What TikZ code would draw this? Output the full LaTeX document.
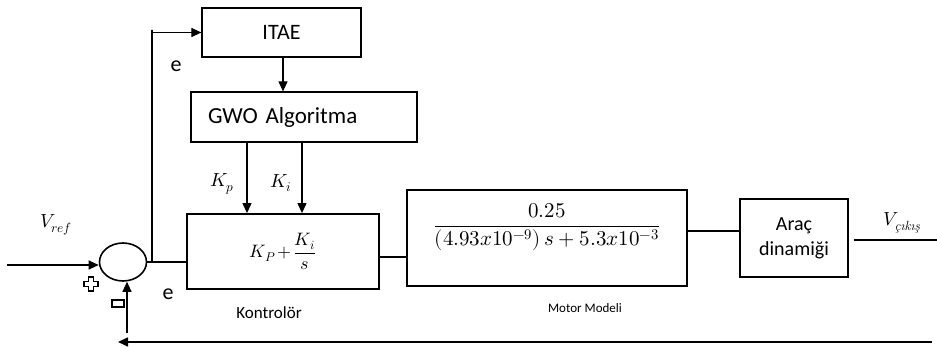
\documentclass[tikz,border=0pt]{standalone}
\usepackage{fontspec}
\usepackage{amsmath}
\usepackage{unicode-math}
\setmathfont{Latin Modern Math}
\newfontfamily\calfont{Carlito}
\usetikzlibrary{arrows.meta,shapes.geometric,calc}
\begin{document}
\begin{tikzpicture}[x=1pt,y=-1pt,
  box/.style={draw,line width=1.8pt,inner sep=0pt},
  tbox/.style={draw,line width=1.2pt,inner sep=0pt},
  conn/.style={line width=1.1pt},
  arr/.style={conn,-{Triangle[length=10pt,width=9pt]}},
  lbl/.style={inner sep=0pt,font=\calfont\fontsize{22}{26}\selectfont},
  mlbl/.style={inner sep=0pt,font=\fontsize{19}{22}\selectfont}]
\useasboundingbox (0,0) rectangle (937,347);
% blocks
\node[tbox,minimum width=159pt,minimum height=49pt,lbl] (itae) at (281.5,32.5) {ITAE};
\node[tbox,minimum width=226pt,minimum height=50pt,text width=192pt,align=left,inner xsep=17pt,lbl,font=\calfont\fontsize{23}{27}\selectfont] (gwo) at (304,117) {GWO Algoritma};
\node[box,minimum width=192pt,minimum height=75pt,mlbl,font=\fontsize{18}{21}\selectfont] (ctrl) at (283,251.5) {$\medmuskip=2mu K_P+\dfrac{K_i}{s}$};
\node[box,minimum width=280pt,minimum height=96pt] (motor) at (547,238) {};
\node[mlbl,font=\fontsize{21}{24}\selectfont] (motortf) at (547,227) {$\dfrac{0.25}{\left(4.93x10^{-9}\right)s+5.3x10^{-3}}$};
\node[box,minimum width=108pt,minimum height=78pt,align=center,inner sep=0pt,font=\calfont\fontsize{20}{25}\selectfont] (arac) at (794,238) {Araç\\dinamiği};
\node[draw,ellipse,line width=1.6pt,minimum width=47pt,minimum height=38pt,inner sep=0pt] (sum) at (123,262) {};
% labels
\node[lbl] (e1) at (176,66) {e};
\node[lbl] (e2) at (168,294) {e};
\node[mlbl] (vref) at (56,225) {$V_{ref}$};
\node[mlbl] (kp) at (222,184) {$K_p$};
\node[mlbl] (ki) at (281,183) {$K_i$};
\node[mlbl] (vout) at (902,223) {$V_{\textit{çıkış}}$};
\node[inner sep=0pt,font=\calfont\fontsize{17}{20}\selectfont] (kont) at (269,313) {Kontrolör};
\node[inner sep=0pt,font=\calfont\fontsize{13}{16}\selectfont] (mm) at (585,308) {Motor Modeli};
% coordinates
\coordinate (in) at (7,265);
\coordinate (br) at (152,262);
\coordinate (out) at (937,240);
\coordinate (fbr) at (932,342);
\coordinate (fbl) at (118,342);
\coordinate (fbv) at (127,333);
\coordinate (kpx) at (247,0);
\coordinate (kix) at (302,0);
% connectors
\draw[arr] (in) -- (in -| sum.west);
\draw[conn] (sum.east) -- (sum.east -| ctrl.west);
\draw[arr] (br) -- (br |- 0,30) |- (itae.west);
\draw[arr] (itae.south -| 283,0) -- (gwo.north -| 283,0);
\draw[arr] (gwo.south -| kpx) -- (ctrl.north -| kpx);
\draw[arr] (gwo.south -| kix) -- (ctrl.north -| kix);
\draw[conn] ($(ctrl.east)+(0,5.5)$) -- ($(ctrl.east -| motor.west)+(0,5.5)$);
\draw[conn] ($(motor.east)+(0,-7)$) -- ($(motor.east -| arac.west)+(0,-7)$);
\draw[conn] ($(arac.east)+(5,2)$) -- (out);
\draw[line width=1.6pt,-{Triangle[length=10pt,width=9pt]}] (fbr) -- (fbl);
\draw[arr] (fbv) -- (fbv |- sum.south);
% sign symbols
\draw[line width=1.4pt,fill=white,shift={(91,284)}] (-2.5,-7) -- (2.5,-7) -- (2.5,-2.5) -- (7,-2.5) -- (7,2.5) -- (2.5,2.5) -- (2.5,7) -- (-2.5,7) -- (-2.5,2.5) -- (-7,2.5) -- (-7,-2.5) -- (-2.5,-2.5) -- cycle;
\draw[line width=1.4pt] (112,300) rectangle (124,307);
\end{tikzpicture}
\end{document}
